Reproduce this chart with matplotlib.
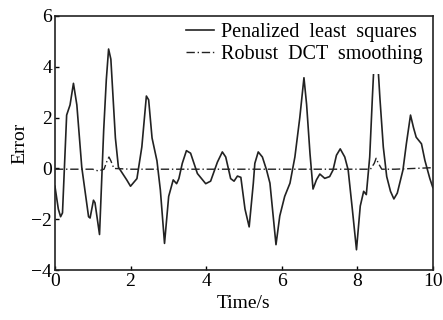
import matplotlib
matplotlib.use("Agg")
import matplotlib.pyplot as plt
import numpy as np

# Penalized least squares error (time, value)
pls_t = [0.0, 0.09, 0.15, 0.2, 0.31, 0.4, 0.49, 0.58, 0.71, 0.89, 0.93, 1.02, 1.06, 1.18,
         1.29, 1.36, 1.42, 1.48, 1.6, 1.68, 1.9, 2.0, 2.17, 2.3, 2.42, 2.48, 2.57, 2.7,
         2.79, 2.9, 3.01, 3.13, 3.22, 3.28, 3.37, 3.48, 3.59, 3.77, 3.99, 4.12, 4.3, 4.43,
         4.52, 4.65, 4.74, 4.83, 4.92, 5.03, 5.14, 5.25, 5.29, 5.38, 5.49, 5.6, 5.69, 5.85,
         5.95, 6.08, 6.22, 6.35, 6.48, 6.59, 6.66, 6.75, 6.83, 6.92, 7.01, 7.14, 7.27, 7.36,
         7.45, 7.55, 7.67, 7.76, 7.87, 7.98, 8.08, 8.17, 8.24, 8.33, 8.4, 8.44, 8.495, 8.55,
         8.6, 8.69, 8.78, 8.88, 8.97, 9.06, 9.21, 9.3, 9.41, 9.49, 9.56, 9.7, 9.79, 9.92, 10.0]
pls_v = [-0.7, -1.6, -1.9, -1.75, 2.1, 2.5, 3.35, 2.5, 0.05, -1.9, -1.95, -1.25, -1.35, -2.6,
         1.5, 3.5, 4.7, 4.3, 1.2, 0.05, -0.45, -0.7, -0.4, 0.85, 2.85, 2.7, 1.2, 0.3,
         -0.85, -2.95, -1.1, -0.45, -0.6, -0.4, 0.2, 0.7, 0.6, -0.2, -0.6, -0.5, 0.25, 0.65,
         0.45, -0.4, -0.5, -0.3, -0.35, -1.6, -2.3, -0.58, 0.2, 0.65, 0.45, -0.06, -0.58, -3.0,
         -1.87, -1.1, -0.58, 0.45, 2.0, 3.57, 2.52, 0.58, -0.81, -0.45, -0.22, -0.39, -0.32, -0.06,
         0.52, 0.77, 0.45, -0.06, -1.6, -3.2, -1.48, -0.9, -1.03, 0.45, 2.77, 4.0, 5.6, 4.0,
         2.77, 0.84, -0.32, -0.9, -1.2, -0.97, -0.06, 0.97, 2.1, 1.6, 1.23, 0.97, 0.32, -0.39, -0.75]

# Robust DCT smoothing error
dct_t = [0.0, 0.5, 1.0, 1.15, 1.3, 1.38, 1.43, 1.48, 1.56, 2.0, 3.0, 4.0, 5.0, 6.0, 7.0,
         8.0, 8.35, 8.45, 8.5, 8.56, 8.65, 9.0, 10.0]
dct_v = [-0.03, -0.03, -0.03, -0.1, -0.03, 0.3, 0.45, 0.3, 0.0, -0.03, -0.03, -0.03, -0.03,
         -0.03, -0.03, -0.03, -0.03, 0.2, 0.4, 0.2, -0.03, -0.03, 0.03]

plt.rcParams['font.family'] = ['Liberation Serif', 'DejaVu Serif']

fig = plt.figure(figsize=(4.43, 3.2), dpi=100)
ax = fig.add_axes([0.124, 0.156, 0.853, 0.794])

ax.plot(pls_t, pls_v, color='#222222', lw=1.2, label='Penalized  least  squares')
ax.plot(dct_t, dct_v, color='#222222', lw=1.0, linestyle=(0, (6, 2, 1, 2)),
        label='Robust  DCT  smoothing')

ax.set_xlim(0, 10)
ax.set_ylim(-4, 6)
ax.set_xticks([0, 2, 4, 6, 8, 10])
ax.set_yticks([-4, -2, 0, 2, 4, 6])
ax.tick_params(direction='in', length=3, labelsize=14, width=1, pad=2)
for s in ax.spines.values():
    s.set_linewidth(1.2)
    s.set_color('#222222')

ax.set_xlabel('Time/s', fontsize=14, labelpad=4)
ax.set_ylabel('Error', fontsize=14, labelpad=2)

leg = ax.legend(loc='upper right', bbox_to_anchor=(1.0, 1.012), fontsize=14.5,
                frameon=True, fancybox=False,
                edgecolor='none', facecolor='white', framealpha=1,
                handlelength=1.4, handletextpad=0.35, borderpad=0.5,
                labelspacing=0.12, borderaxespad=0.0)
leg.set_zorder(2.3)

fig.savefig('out.png', dpi=100)
